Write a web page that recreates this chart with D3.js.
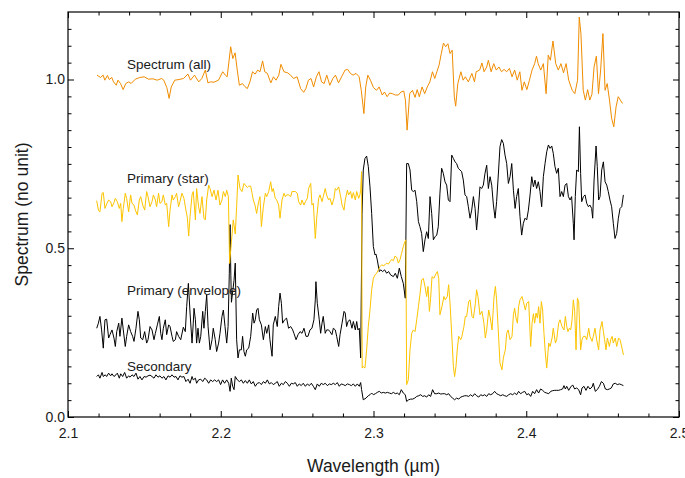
<!DOCTYPE html>
<html><head><meta charset="utf-8">
<script src="https://cdn.jsdelivr.net/npm/d3@7"></script>
<style>
body{margin:0;background:#fff}
svg{display:block}
text{font-family:"Liberation Sans",Arial,Helvetica,sans-serif;fill:#1a1a1a}
</style>
</head><body>
<svg id="chart" width="685" height="478"></svg>
<script>
// ---------------- DATA ----------------
const xTickValues = [2.1, 2.2, 2.3, 2.4, 2.5];
const xTickLabels = ["2.1", "2.2", "2.3", "2.4", "2.5"];
const yTickValues = [0, 0.5, 1.0];
const yTickLabels = ["0.0", "0.5", "1.0"];

const seriesNames = ["Spectrum (all)", "Primary (star)", "Primary (envelope)", "Secondary"];

const spectrumWl = [2.1190,2.1213,2.1230,2.1241,2.1258,2.1270,2.1287,2.1298,2.1316,2.1327,2.1344,2.1361,2.1378,2.1398,2.1413,2.1441,2.1470,2.1499,2.1527,2.1556,2.1584,2.1613,2.1627,2.1647,2.1662,2.1676,2.1699,2.1727,2.1756,2.1785,2.1802,2.1828,2.1856,2.1876,2.1899,2.1916,2.1933,2.1956,2.1985,2.2013,2.2030,2.2042,2.2065,2.2079,2.2094,2.2108,2.2122,2.2142,2.2156,2.2174,2.2191,2.2208,2.2225,2.2242,2.2257,2.2274,2.2288,2.2305,2.2328,2.2345,2.2362,2.2380,2.2394,2.2414,2.2437,2.2457,2.2477,2.2500,2.2523,2.2543,2.2557,2.2574,2.2591,2.2608,2.2626,2.2643,2.2660,2.2677,2.2694,2.2714,2.2734,2.2751,2.2771,2.2791,2.2814,2.2831,2.2849,2.2866,2.2886,2.2906,2.2920,2.2937,2.2949,2.2963,2.2980,2.3000,2.3020,2.3037,2.3057,2.3072,2.3089,2.3106,2.3123,2.3143,2.3163,2.3180,2.3198,2.3209,2.3220,2.3237,2.3255,2.3272,2.3286,2.3300,2.3318,2.3335,2.3352,2.3369,2.3386,2.3401,2.3415,2.3429,2.3444,2.3458,2.3472,2.3487,2.3501,2.3515,2.3529,2.3538,2.3552,2.3572,2.3587,2.3601,2.3621,2.3644,2.3661,2.3672,2.3695,2.3710,2.3724,2.3741,2.3752,2.3770,2.3787,2.3804,2.3821,2.3838,2.3855,2.3872,2.3890,2.3907,2.3924,2.3941,2.3958,2.3972,2.3987,2.4004,2.4021,2.4038,2.4055,2.4067,2.4078,2.4095,2.4112,2.4130,2.4144,2.4158,2.4175,2.4193,2.4210,2.4227,2.4244,2.4261,2.4278,2.4301,2.4318,2.4336,2.4347,2.4358,2.4373,2.4387,2.4402,2.4416,2.4430,2.4444,2.4459,2.4473,2.4487,2.4502,2.4516,2.4530,2.4545,2.4559,2.4573,2.4588,2.4602,2.4616,2.4630];
const spectrumVal = [1.013,1.006,1.013,0.998,1.012,1.000,1.006,0.993,0.983,0.998,0.988,0.970,0.988,0.993,0.988,1.001,1.006,1.008,1.001,1.002,0.998,1.003,0.998,0.976,0.944,0.978,0.998,1.000,1.003,1.016,0.998,1.013,0.993,1.003,1.028,0.990,0.993,0.992,0.998,1.023,1.013,1.008,1.097,1.062,1.079,1.028,0.983,0.988,0.980,0.973,0.993,1.023,1.016,1.028,1.023,1.055,1.023,1.018,0.990,1.008,0.998,1.013,1.045,1.023,1.020,1.013,1.003,1.008,0.973,0.962,0.973,0.998,1.003,0.978,1.008,1.023,0.993,0.988,1.013,0.983,1.003,1.013,0.990,1.008,1.028,1.030,1.018,1.013,1.018,1.008,0.968,0.899,0.978,1.013,0.998,0.976,0.968,0.978,0.954,0.963,0.949,0.960,0.958,0.954,0.954,0.963,0.966,0.939,0.850,0.958,0.968,0.947,0.970,0.949,0.978,0.958,0.978,0.993,1.023,1.003,1.023,1.042,1.077,1.108,1.097,1.106,1.077,1.087,0.949,0.921,0.988,1.023,0.998,1.008,0.993,1.018,0.993,1.023,1.028,1.049,1.023,1.037,1.057,1.023,1.047,1.028,1.037,1.023,1.030,1.023,1.033,1.008,1.028,0.998,1.023,0.968,0.993,0.970,0.998,1.028,1.047,1.069,1.047,1.028,1.047,0.958,1.072,1.057,1.114,1.047,1.028,1.047,1.020,1.047,0.998,0.968,0.958,0.998,1.185,1.136,0.968,0.939,0.970,0.939,0.956,1.037,1.069,0.958,1.028,1.136,0.968,0.988,0.939,0.885,0.860,0.919,0.949,0.939,0.929];

const starWl = [2.1188,2.1199,2.1209,2.1223,2.1231,2.1242,2.1253,2.1266,2.1279,2.1288,2.1301,2.1310,2.1323,2.1336,2.1345,2.1353,2.1362,2.1375,2.1384,2.1397,2.1410,2.1419,2.1432,2.1441,2.1454,2.1467,2.1476,2.1489,2.1502,2.1515,2.1524,2.1537,2.1550,2.1559,2.1572,2.1580,2.1593,2.1602,2.1615,2.1624,2.1637,2.1646,2.1659,2.1668,2.1681,2.1689,2.1703,2.1711,2.1724,2.1733,2.1746,2.1759,2.1772,2.1781,2.1790,2.1799,2.1812,2.1820,2.1834,2.1842,2.1855,2.1864,2.1877,2.1890,2.1899,2.1908,2.1921,2.1930,2.1943,2.1956,2.1969,2.1982,2.1995,2.2008,2.2017,2.2030,2.2039,2.2050,2.2058,2.2070,2.2082,2.2095,2.2104,2.2113,2.2126,2.2139,2.2152,2.2161,2.2174,2.2183,2.2196,2.2205,2.2213,2.2224,2.2235,2.2248,2.2257,2.2266,2.2279,2.2292,2.2301,2.2314,2.2327,2.2336,2.2344,2.2357,2.2366,2.2379,2.2388,2.2401,2.2414,2.2423,2.2431,2.2444,2.2458,2.2466,2.2479,2.2488,2.2501,2.2510,2.2523,2.2532,2.2545,2.2554,2.2567,2.2575,2.2589,2.2597,2.2606,2.2619,2.2628,2.2641,2.2650,2.2663,2.2671,2.2684,2.2693,2.2706,2.2715,2.2728,2.2741,2.2750,2.2759,2.2772,2.2785,2.2794,2.2807,2.2815,2.2829,2.2837,2.2850,2.2859,2.2868,2.2881,2.2890,2.2903,2.2911,2.2916,2.2922,2.2926,2.2933,2.2944,2.2955,2.2966,2.2977,2.2988,2.2999,2.3010,2.3021,2.3032,2.3043,2.3054,2.3064,2.3075,2.3086,2.3097,2.3108,2.3119,2.3130,2.3141,2.3152,2.3163,2.3174,2.3184,2.3195,2.3206,2.3212,2.3217,2.3228,2.3239,2.3250,2.3261,2.3272,2.3283,2.3294,2.3304,2.3315,2.3326,2.3337,2.3348,2.3357,2.3366,2.3374,2.3383,2.3396,2.3405,2.3418,2.3427,2.3435,2.3448,2.3461,2.3470,2.3483,2.3492,2.3501,2.3514,2.3523,2.3531,2.3540,2.3549,2.3558,2.3571,2.3579,2.3592,2.3601,2.3610,2.3623,2.3632,2.3645,2.3654,2.3667,2.3675,2.3684,2.3697,2.3710,2.3723,2.3732,2.3741,2.3754,2.3763,2.3776,2.3789,2.3798,2.3806,2.3820,2.3828,2.3841,2.3850,2.3863,2.3872,2.3881,2.3894,2.3907,2.3916,2.3924,2.3933,2.3942,2.3950,2.3959,2.3972,2.3981,2.3994,2.4003,2.4016,2.4029,2.4038,2.4047,2.4055,2.4064,2.4073,2.4081,2.4090,2.4099,2.4107,2.4116,2.4125,2.4134,2.4147,2.4156,2.4169,2.4177,2.4191,2.4199,2.4212,2.4221,2.4234,2.4247,2.4256,2.4265,2.4273,2.4282,2.4291,2.4300,2.4308,2.4317,2.4326,2.4335,2.4343,2.4356,2.4365,2.4374,2.4387,2.4396,2.4409,2.4417,2.4431,2.4439,2.4450,2.4461,2.4474,2.4483,2.4496,2.4505,2.4513,2.4522,2.4531,2.4544,2.4553,2.4562,2.4570,2.4583,2.4592,2.4605,2.4614,2.4627,2.4636];
const starVal = [0.641,0.613,0.608,0.663,0.665,0.618,0.631,0.643,0.638,0.623,0.635,0.648,0.638,0.618,0.633,0.579,0.618,0.663,0.648,0.608,0.658,0.633,0.628,0.613,0.599,0.643,0.653,0.628,0.613,0.668,0.653,0.623,0.638,0.658,0.643,0.623,0.663,0.633,0.638,0.658,0.628,0.633,0.564,0.613,0.658,0.643,0.653,0.663,0.623,0.638,0.663,0.648,0.613,0.592,0.536,0.594,0.658,0.668,0.584,0.677,0.623,0.603,0.653,0.589,0.584,0.643,0.687,0.677,0.653,0.672,0.643,0.672,0.628,0.643,0.668,0.653,0.672,0.653,0.455,0.520,0.584,0.542,0.623,0.717,0.677,0.668,0.692,0.687,0.680,0.684,0.684,0.663,0.643,0.628,0.603,0.638,0.653,0.564,0.623,0.663,0.653,0.668,0.697,0.668,0.677,0.648,0.643,0.628,0.589,0.643,0.663,0.653,0.658,0.658,0.653,0.668,0.668,0.668,0.663,0.638,0.628,0.643,0.628,0.638,0.648,0.677,0.692,0.628,0.633,0.529,0.589,0.648,0.658,0.638,0.653,0.677,0.658,0.643,0.648,0.628,0.648,0.677,0.672,0.682,0.653,0.628,0.613,0.643,0.672,0.658,0.668,0.648,0.665,0.643,0.668,0.648,0.658,0.672,0.727,0.145,0.150,0.145,0.199,0.268,0.317,0.377,0.411,0.421,0.426,0.436,0.446,0.451,0.448,0.451,0.456,0.453,0.460,0.467,0.463,0.477,0.473,0.456,0.467,0.485,0.505,0.520,0.525,0.096,0.110,0.199,0.248,0.258,0.253,0.288,0.327,0.362,0.406,0.411,0.387,0.357,0.387,0.313,0.352,0.416,0.411,0.421,0.431,0.411,0.303,0.327,0.357,0.347,0.357,0.392,0.337,0.229,0.150,0.120,0.150,0.204,0.239,0.229,0.239,0.268,0.298,0.298,0.342,0.347,0.298,0.293,0.337,0.377,0.357,0.303,0.313,0.278,0.234,0.258,0.317,0.298,0.258,0.357,0.387,0.347,0.229,0.160,0.140,0.175,0.199,0.248,0.258,0.229,0.239,0.303,0.322,0.293,0.278,0.327,0.347,0.357,0.342,0.317,0.337,0.342,0.209,0.278,0.306,0.278,0.308,0.293,0.327,0.278,0.342,0.317,0.248,0.189,0.145,0.219,0.209,0.234,0.263,0.219,0.229,0.278,0.288,0.268,0.258,0.298,0.268,0.253,0.263,0.258,0.288,0.347,0.313,0.199,0.352,0.342,0.199,0.229,0.239,0.239,0.229,0.263,0.239,0.224,0.239,0.263,0.229,0.199,0.258,0.283,0.253,0.229,0.199,0.234,0.209,0.229,0.239,0.219,0.234,0.209,0.234,0.229,0.204,0.184];

const envelopeWl = [2.1188,2.1199,2.1209,2.1220,2.1231,2.1242,2.1253,2.1266,2.1275,2.1288,2.1301,2.1310,2.1319,2.1332,2.1340,2.1353,2.1362,2.1375,2.1384,2.1397,2.1410,2.1423,2.1432,2.1445,2.1458,2.1467,2.1476,2.1489,2.1502,2.1515,2.1524,2.1537,2.1550,2.1563,2.1572,2.1585,2.1598,2.1607,2.1615,2.1624,2.1637,2.1646,2.1659,2.1668,2.1681,2.1689,2.1703,2.1711,2.1724,2.1738,2.1755,2.1768,2.1777,2.1788,2.1799,2.1812,2.1820,2.1825,2.1834,2.1842,2.1851,2.1860,2.1869,2.1882,2.1890,2.1899,2.1908,2.1917,2.1930,2.1943,2.1951,2.1964,2.1973,2.1986,2.1995,2.2008,2.2017,2.2028,2.2039,2.2048,2.2056,2.2061,2.2066,2.2070,2.2087,2.2095,2.2104,2.2113,2.2122,2.2135,2.2143,2.2152,2.2161,2.2170,2.2183,2.2196,2.2209,2.2218,2.2226,2.2235,2.2244,2.2253,2.2266,2.2279,2.2292,2.2301,2.2314,2.2322,2.2336,2.2344,2.2357,2.2370,2.2379,2.2388,2.2397,2.2405,2.2418,2.2431,2.2444,2.2458,2.2471,2.2479,2.2493,2.2506,2.2519,2.2532,2.2545,2.2558,2.2571,2.2584,2.2597,2.2610,2.2619,2.2623,2.2632,2.2645,2.2654,2.2663,2.2671,2.2684,2.2693,2.2706,2.2715,2.2728,2.2737,2.2750,2.2759,2.2772,2.2781,2.2794,2.2807,2.2815,2.2824,2.2833,2.2846,2.2859,2.2868,2.2881,2.2890,2.2898,2.2907,2.2916,2.2925,2.2933,2.2944,2.2955,2.2966,2.2977,2.2988,2.2999,2.3010,2.3016,2.3025,2.3038,2.3047,2.3060,2.3073,2.3086,2.3099,2.3112,2.3130,2.3143,2.3156,2.3169,2.3182,2.3195,2.3208,2.3217,2.3228,2.3239,2.3250,2.3261,2.3272,2.3283,2.3294,2.3304,2.3315,2.3326,2.3337,2.3348,2.3359,2.3370,2.3381,2.3392,2.3403,2.3414,2.3424,2.3435,2.3446,2.3457,2.3468,2.3479,2.3490,2.3501,2.3512,2.3523,2.3534,2.3544,2.3555,2.3566,2.3577,2.3588,2.3599,2.3610,2.3621,2.3632,2.3643,2.3654,2.3665,2.3675,2.3686,2.3697,2.3708,2.3719,2.3730,2.3741,2.3752,2.3763,2.3774,2.3785,2.3796,2.3806,2.3817,2.3828,2.3839,2.3850,2.3861,2.3872,2.3883,2.3894,2.3905,2.3916,2.3927,2.3937,2.3948,2.3959,2.3970,2.3981,2.3992,2.4003,2.4014,2.4025,2.4036,2.4047,2.4057,2.4068,2.4079,2.4090,2.4101,2.4112,2.4123,2.4134,2.4145,2.4156,2.4167,2.4177,2.4188,2.4199,2.4210,2.4221,2.4232,2.4243,2.4254,2.4265,2.4276,2.4287,2.4297,2.4308,2.4313,2.4321,2.4330,2.4341,2.4348,2.4356,2.4363,2.4374,2.4385,2.4396,2.4407,2.4417,2.4428,2.4435,2.4444,2.4457,2.4465,2.4474,2.4483,2.4494,2.4505,2.4516,2.4527,2.4537,2.4548,2.4559,2.4570,2.4581,2.4592,2.4603,2.4614,2.4625,2.4636];
const envelopeVal = [0.263,0.278,0.298,0.258,0.204,0.288,0.290,0.234,0.244,0.258,0.234,0.209,0.253,0.278,0.239,0.293,0.258,0.209,0.239,0.273,0.253,0.239,0.224,0.263,0.313,0.288,0.234,0.229,0.253,0.219,0.229,0.268,0.258,0.229,0.248,0.273,0.298,0.248,0.229,0.263,0.288,0.244,0.273,0.268,0.239,0.224,0.229,0.253,0.239,0.229,0.266,0.253,0.327,0.396,0.308,0.219,0.278,0.322,0.288,0.219,0.263,0.219,0.239,0.313,0.263,0.313,0.362,0.268,0.199,0.229,0.263,0.229,0.194,0.219,0.248,0.298,0.317,0.268,0.219,0.268,0.426,0.570,0.420,0.340,0.405,0.456,0.229,0.175,0.199,0.199,0.239,0.194,0.180,0.199,0.204,0.239,0.308,0.278,0.288,0.317,0.322,0.288,0.273,0.229,0.268,0.248,0.273,0.229,0.180,0.273,0.298,0.268,0.327,0.367,0.337,0.278,0.288,0.293,0.263,0.268,0.258,0.248,0.229,0.244,0.253,0.248,0.263,0.239,0.239,0.258,0.263,0.288,0.347,0.401,0.337,0.288,0.248,0.278,0.298,0.248,0.258,0.258,0.253,0.244,0.263,0.258,0.239,0.209,0.244,0.278,0.313,0.308,0.268,0.283,0.288,0.263,0.283,0.258,0.283,0.258,0.263,0.175,0.600,0.732,0.766,0.773,0.742,0.682,0.603,0.505,0.480,0.483,0.465,0.431,0.436,0.431,0.436,0.426,0.431,0.421,0.416,0.426,0.411,0.441,0.416,0.396,0.352,0.751,0.751,0.732,0.672,0.668,0.672,0.638,0.579,0.564,0.544,0.490,0.525,0.549,0.529,0.653,0.603,0.525,0.534,0.539,0.564,0.663,0.737,0.722,0.697,0.687,0.643,0.638,0.776,0.766,0.756,0.751,0.737,0.732,0.727,0.702,0.658,0.653,0.623,0.589,0.613,0.653,0.618,0.554,0.613,0.682,0.677,0.687,0.722,0.746,0.677,0.712,0.687,0.628,0.589,0.638,0.717,0.801,0.822,0.811,0.776,0.751,0.692,0.712,0.751,0.672,0.618,0.653,0.677,0.594,0.539,0.574,0.589,0.584,0.613,0.658,0.712,0.682,0.702,0.677,0.697,0.668,0.623,0.712,0.751,0.786,0.806,0.796,0.803,0.781,0.742,0.722,0.737,0.653,0.668,0.653,0.687,0.692,0.653,0.643,0.653,0.574,0.525,0.653,0.732,0.727,0.860,0.722,0.638,0.653,0.658,0.633,0.623,0.628,0.618,0.589,0.702,0.803,0.742,0.643,0.653,0.732,0.756,0.697,0.687,0.668,0.643,0.623,0.574,0.529,0.544,0.589,0.618,0.623,0.658];

const secondaryWl = [2.1188,2.1199,2.1209,2.1223,2.1231,2.1244,2.1253,2.1266,2.1279,2.1288,2.1301,2.1314,2.1323,2.1336,2.1345,2.1358,2.1371,2.1384,2.1397,2.1406,2.1419,2.1432,2.1445,2.1458,2.1471,2.1484,2.1498,2.1511,2.1524,2.1537,2.1550,2.1563,2.1576,2.1589,2.1602,2.1615,2.1628,2.1641,2.1655,2.1668,2.1681,2.1694,2.1707,2.1720,2.1733,2.1746,2.1759,2.1772,2.1786,2.1799,2.1812,2.1820,2.1834,2.1842,2.1855,2.1869,2.1882,2.1895,2.1908,2.1921,2.1934,2.1947,2.1960,2.1973,2.1986,2.1999,2.2012,2.2025,2.2039,2.2052,2.2061,2.2069,2.2078,2.2087,2.2095,2.2109,2.2122,2.2135,2.2148,2.2161,2.2174,2.2187,2.2200,2.2213,2.2226,2.2240,2.2253,2.2266,2.2279,2.2292,2.2305,2.2318,2.2331,2.2344,2.2357,2.2370,2.2383,2.2397,2.2410,2.2423,2.2436,2.2449,2.2462,2.2475,2.2488,2.2501,2.2514,2.2527,2.2540,2.2554,2.2567,2.2580,2.2593,2.2606,2.2619,2.2632,2.2645,2.2658,2.2671,2.2684,2.2698,2.2711,2.2724,2.2737,2.2750,2.2763,2.2776,2.2789,2.2802,2.2815,2.2829,2.2842,2.2855,2.2868,2.2881,2.2894,2.2907,2.2916,2.2922,2.2933,2.2951,2.2966,2.2977,2.2988,2.2999,2.3012,2.3025,2.3038,2.3051,2.3064,2.3078,2.3091,2.3104,2.3117,2.3130,2.3143,2.3156,2.3169,2.3182,2.3195,2.3208,2.3217,2.3230,2.3243,2.3256,2.3270,2.3283,2.3296,2.3309,2.3322,2.3335,2.3348,2.3361,2.3374,2.3387,2.3400,2.3414,2.3427,2.3440,2.3453,2.3466,2.3479,2.3492,2.3505,2.3518,2.3531,2.3544,2.3558,2.3571,2.3584,2.3597,2.3610,2.3623,2.3636,2.3649,2.3662,2.3675,2.3689,2.3702,2.3715,2.3728,2.3741,2.3754,2.3767,2.3780,2.3793,2.3806,2.3820,2.3833,2.3846,2.3859,2.3872,2.3885,2.3898,2.3911,2.3924,2.3937,2.3950,2.3963,2.3976,2.3990,2.4003,2.4016,2.4029,2.4042,2.4055,2.4068,2.4081,2.4094,2.4107,2.4121,2.4134,2.4147,2.4160,2.4173,2.4186,2.4199,2.4212,2.4225,2.4238,2.4247,2.4256,2.4265,2.4278,2.4291,2.4304,2.4317,2.4330,2.4343,2.4356,2.4365,2.4378,2.4391,2.4404,2.4417,2.4431,2.4439,2.4452,2.4465,2.4479,2.4492,2.4505,2.4518,2.4531,2.4544,2.4557,2.4570,2.4583,2.4596,2.4610,2.4622,2.4636];
const secondaryVal = [0.120,0.125,0.115,0.132,0.120,0.125,0.120,0.130,0.122,0.128,0.120,0.125,0.130,0.115,0.128,0.120,0.132,0.115,0.122,0.118,0.125,0.120,0.130,0.112,0.120,0.110,0.120,0.118,0.122,0.124,0.120,0.115,0.125,0.118,0.122,0.115,0.120,0.110,0.122,0.118,0.125,0.118,0.120,0.110,0.122,0.118,0.120,0.105,0.112,0.100,0.120,0.110,0.115,0.100,0.110,0.112,0.105,0.115,0.110,0.100,0.110,0.105,0.110,0.105,0.110,0.096,0.110,0.100,0.110,0.100,0.076,0.115,0.091,0.081,0.120,0.110,0.105,0.110,0.100,0.108,0.100,0.110,0.098,0.105,0.091,0.100,0.102,0.096,0.105,0.100,0.110,0.098,0.102,0.096,0.100,0.105,0.091,0.100,0.096,0.105,0.100,0.091,0.100,0.098,0.102,0.091,0.098,0.093,0.100,0.091,0.098,0.093,0.100,0.091,0.081,0.098,0.091,0.100,0.096,0.100,0.093,0.098,0.096,0.100,0.096,0.102,0.091,0.098,0.096,0.093,0.098,0.096,0.093,0.098,0.091,0.098,0.091,0.102,0.081,0.051,0.056,0.063,0.066,0.071,0.066,0.069,0.073,0.076,0.071,0.073,0.071,0.073,0.071,0.069,0.073,0.069,0.071,0.066,0.081,0.071,0.066,0.046,0.051,0.053,0.053,0.056,0.061,0.063,0.066,0.061,0.063,0.059,0.066,0.061,0.081,0.069,0.069,0.071,0.068,0.069,0.069,0.066,0.069,0.061,0.056,0.051,0.056,0.053,0.059,0.061,0.063,0.063,0.061,0.066,0.061,0.069,0.063,0.059,0.066,0.063,0.066,0.061,0.069,0.066,0.069,0.076,0.069,0.066,0.063,0.066,0.063,0.061,0.066,0.069,0.066,0.071,0.066,0.076,0.069,0.073,0.076,0.066,0.069,0.061,0.076,0.069,0.081,0.071,0.083,0.079,0.073,0.071,0.069,0.076,0.078,0.079,0.079,0.079,0.081,0.083,0.093,0.083,0.091,0.079,0.089,0.095,0.083,0.086,0.081,0.066,0.086,0.091,0.079,0.091,0.083,0.089,0.100,0.076,0.081,0.091,0.105,0.100,0.083,0.081,0.083,0.086,0.098,0.100,0.096,0.098,0.096,0.093];

// annotation anchor positions in data units (wavelength, value)
const labelWl = [2.1386, 2.1386, 2.1386, 2.1386];
const labelVal = [1.0325, 0.692, 0.362, 0.135];

// ---------------- CHART ----------------
const svg = d3.select("#chart");
const pL = 68, pR = 679, pT = 12, pB = 417;
const x = d3.scaleLinear().domain([2.1, 2.5]).range([pL, pR]);
const y = d3.scaleLinear().domain([0, 1.2]).range([pB, pT]);

const FONT = '"Liberation Sans", Arial, Helvetica, sans-serif';
const xMinor = d3.range(2.12, 2.5, 0.02).map(v => +v.toFixed(2)).filter(v => Math.abs(v*10 - Math.round(v*10)) > 1e-6);
const yMinor = d3.range(0.05, 1.2, 0.05).map(v => +v.toFixed(2)).filter(v => Math.abs(v*2 - Math.round(v*2)) > 1e-6);

function styleAxis(g) {
  g.select(".domain").remove();
  g.selectAll(".tick line").attr("stroke", "#000").attr("stroke-width", 1);
  g.selectAll("text").attr("font-size", 14).attr("font-family", FONT).attr("fill", "#1a1a1a");
}

// minor ticks on all four sides
svg.append("g").attr("transform", `translate(0,${pB})`)
  .call(d3.axisBottom(x).tickValues(xMinor).tickSize(-3.5).tickFormat("")).call(styleAxis);
svg.append("g").attr("transform", `translate(0,${pT})`)
  .call(d3.axisTop(x).tickValues(xMinor).tickSize(-3.5).tickFormat("")).call(styleAxis);
svg.append("g").attr("transform", `translate(${pL},0)`)
  .call(d3.axisLeft(y).tickValues(yMinor).tickSize(-3.5).tickFormat("")).call(styleAxis);
svg.append("g").attr("transform", `translate(${pR},0)`)
  .call(d3.axisRight(y).tickValues(yMinor).tickSize(-3.5).tickFormat("")).call(styleAxis);

// major ticks
svg.append("g").attr("transform", `translate(0,${pB})`)
  .call(d3.axisBottom(x).tickValues(xTickValues).tickSize(-6).tickPadding(11)
    .tickFormat((d, i) => xTickLabels[i])).call(styleAxis);
svg.append("g").attr("transform", `translate(0,${pT})`)
  .call(d3.axisTop(x).tickValues(xTickValues).tickSize(-6).tickFormat("")).call(styleAxis);
svg.append("g").attr("transform", `translate(${pL},0)`)
  .call(d3.axisLeft(y).tickValues(yTickValues).tickSize(-6).tickPadding(3)
    .tickFormat((d, i) => yTickLabels[i])).call(styleAxis);
svg.append("g").attr("transform", `translate(${pR},0)`)
  .call(d3.axisRight(y).tickValues(yTickValues).tickSize(-6).tickFormat("")).call(styleAxis);

// frame
svg.append("rect").attr("x", pL).attr("y", pT).attr("width", pR - pL).attr("height", pB - pT)
  .attr("fill", "none").attr("stroke", "#000").attr("stroke-width", 1.2);

// lines
const line = d3.line().x(d => x(d[0])).y(d => y(d[1]));
const series = [
  {wl: spectrumWl, val: spectrumVal, color: "#f08c00"},
  {wl: envelopeWl, val: envelopeVal, color: "#000000"},
  {wl: starWl, val: starVal, color: "#fcc400"},
  {wl: secondaryWl, val: secondaryVal, color: "#000000"}
];
series.forEach(s => {
  svg.append("path").datum(d3.zip(s.wl, s.val))
    .attr("d", line).attr("fill", "none").attr("stroke", s.color)
    .attr("stroke-width", 1).attr("stroke-linejoin", "round");
});

// annotations
seriesNames.forEach((name, i) => {
  svg.append("text").attr("x", x(labelWl[i])).attr("y", y(labelVal[i]))
    .attr("font-size", 13.5).attr("font-family", FONT).text(name);
});

// axis titles
svg.append("text").attr("x", (pL + pR) / 2).attr("y", 472).attr("text-anchor", "middle")
  .attr("font-size", 17.5).attr("font-family", FONT).text("Wavelength (\u00b5m)");
svg.append("text").attr("transform", `translate(28,${(pT + pB) / 2}) rotate(-90)`)
  .attr("text-anchor", "middle").attr("font-size", 17.5).attr("font-family", FONT)
  .text("Spectrum (no unit)");

// length check (reported after drawing)
const bad = series.filter(s => s.wl.length !== s.val.length).map(s => s.wl.length + "/" + s.val.length);
if (bad.length) setTimeout(() => { throw new Error("length mismatch " + bad.join(",")); }, 0);
</script>
</body></html>
